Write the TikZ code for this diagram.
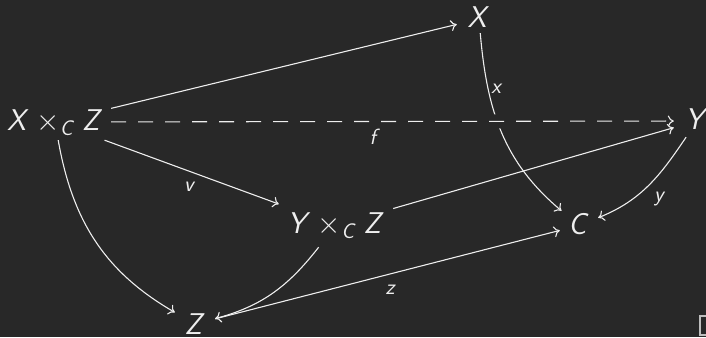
\documentclass[tikz,border=0pt]{standalone}
\usepackage{fix-cm}
\usetikzlibrary{arrows.meta}
\DeclareMathAlphabet{\mathsfit}{OT1}{cmss}{m}{sl}
\definecolor{board}{RGB}{40,40,40}
\definecolor{chalk}{RGB}{238,238,238}
\definecolor{qedc}{RGB}{190,190,190}
\begin{document}
\begin{tikzpicture}[x=1pt,y=1pt,
  obj/.style={inner sep=0pt, text=chalk, text height=21pt, text depth=4pt,
              font=\fontsize{30}{32}\selectfont},
  lab/.style={inner sep=0pt, text=chalk, font=\fontsize{22}{24}\selectfont},
  arr/.style={draw=chalk, line width=1.1pt,
              -{Computer Modern Rightarrow[length=6pt,width=11pt]}},
  dashline/.style={dash pattern=on 15pt off 12pt},
]
\fill[board] (0,0) rectangle (706,-337);
\useasboundingbox (0,0) rectangle (706,-337);

% objects
\node[obj, minimum width=112pt, minimum height=36pt] (XZ) at (55,-122)
  {$\mathsfit{X}\times_{\mathsfit{C}}\mathsfit{Z}$};
\node[obj, minimum width=44pt, minimum height=28pt] (X) at (479,-19) {$\mathsfit{X}$};
\node[obj, minimum width=46pt, minimum height=32pt] (Y) at (697,-121) {$\mathsfit{Y}$};
\node[obj, minimum width=114pt, minimum height=44pt] (YZ) at (336,-225)
  {$\mathsfit{Y}\times_{\mathsfit{C}}\mathsfit{Z}$};
\node[obj, minimum width=38pt, minimum height=29pt] (C) at (579,-225.5) {$\mathsfit{C}$};
\node[obj, text depth=0pt, minimum width=40pt, minimum height=24pt] (Z) at (195,-324) {$\mathsfit{Z}$};

% arrows (x first, so that the dashed f crosses over it)
\draw[arr] (X) to[out=-85, in=140] (C);
\draw[arr, dashline, preaction={draw=board, line width=14pt, solid, -}] (XZ) -- (Y);
\draw[arr] (XZ) -- (X);
\draw[arr] (XZ) -- (YZ);
\draw[arr] (XZ) to[out=-80, in=150] (Z);
\draw[arr] (YZ) -- (Y);
\draw[arr] (Y) to[out=-124, in=22] (C);
\draw[arr] (YZ) to[out=-128, in=15] (Z);
\draw[arr] (Z) -- (C);

% labels
\node[lab] (lx) at (497,-89) {$\mathsfit{x}$};
\node[lab] (lf) at (375,-137) {$\mathsfit{f}$};
\node[lab] (lv) at (190,-186.5) {$\mathsfit{v}$};
\node[lab] (ly) at (660,-199) {$\mathsfit{y}$};
\node[lab] (lz) at (391,-290) {$\mathsfit{z}$};

% end-of-proof box
\node[draw=qedc, line width=1.2pt, minimum width=18pt, minimum height=19pt, inner sep=0pt] (qed) at (709,-325.5) {};
\end{tikzpicture}
\end{document}
